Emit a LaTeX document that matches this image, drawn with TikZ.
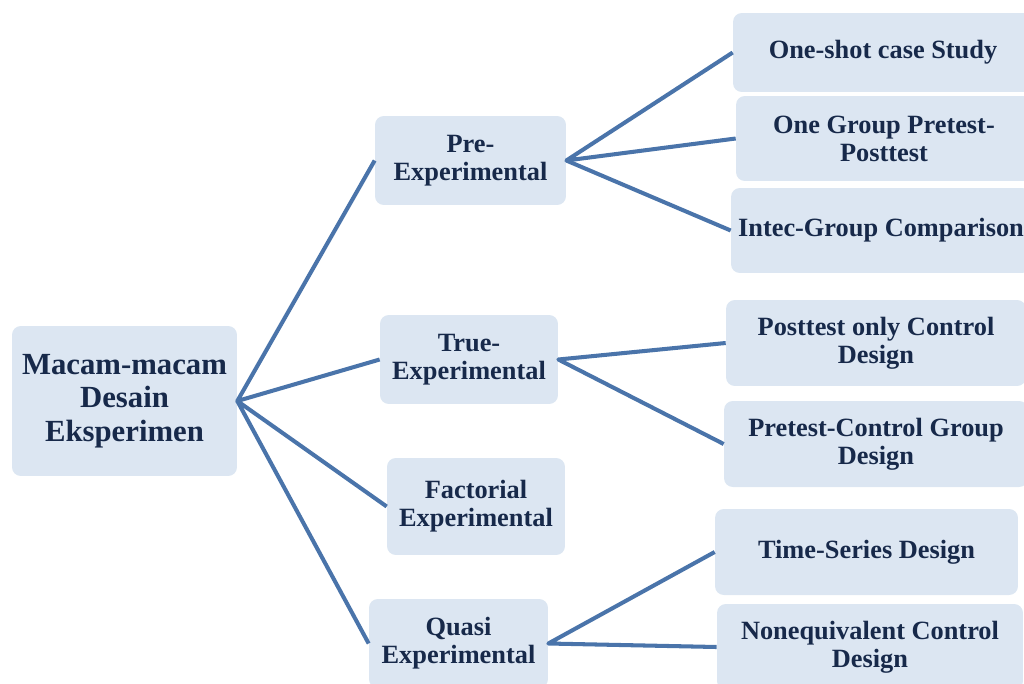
\documentclass[tikz,border=0pt]{standalone}
\usepackage{fontspec}
\setmainfont{Liberation Serif}
\definecolor{boxfill}{HTML}{DCE6F2}
\definecolor{boxtext}{HTML}{17294A}
\definecolor{linkblue}{HTML}{4A74AA}
\tikzset{
  box/.style={rectangle, rounded corners=5pt, fill=boxfill, text=boxtext, align=center,
    font=\fontsize{15}{16}\selectfont\bfseries, inner sep=0pt},
  link/.style={draw=linkblue, line width=2.3pt, line join=round}
}
\begin{document}
\begin{tikzpicture}[x=0.02cm, y=-0.02cm]
			\clip (0,0) rectangle (1024,683);
			\node[box, minimum width=4.5cm, minimum height=3cm, font=\fontsize{17.5}{19}\selectfont\bfseries] at (124.5,401) (root) {Macam-macam\\Desain\\Eksperimen};

			\node[box, minimum width=3.82cm, minimum height=1.78cm] at (470.5,160.5) (pre) {Pre-\\Experimental};
			\node[box, minimum width=3.56cm, minimum height=1.78cm] at (469,359.5) (true) {True-\\Experimental};
			\node[box, minimum width=3.56cm, minimum height=1.94cm] at (476,506.5) (fact) {Factorial\\Experimental};
			\node[box, minimum width=3.58cm, minimum height=1.78cm] at (458.5,643.5) (quasi) {Quasi\\Experimental};

			\node[box, minimum width=6cm, minimum height=1.58cm] at (883,52.5) (oneshot) {One-shot case Study};
			\node[box, minimum width=5.92cm, minimum height=1.7cm] at (884,138.5) (onegroup) {One Group Pretest-\\Posttest};
			\node[box, minimum width=6cm, minimum height=1.7cm] at (881,230.5) (intec) {Intec-Group Comparison};

			\node[box, minimum width=6cm, minimum height=1.72cm] at (876,343) (postonly) {Posttest only Control\\Design};
			\node[box, minimum width=6.08cm, minimum height=1.72cm] at (876,444) (pretestctrl) {Pretest-Control Group\\Design};

			\node[box, minimum width=6.06cm, minimum height=1.72cm] at (866.5,552) (timeseries) {Time-Series Design};
			\node[box, minimum width=6.12cm, minimum height=1.72cm] at (870,647) (noneq) {Nonequivalent Control\\Design};

			\draw[link] (pre.west)--(root.east)--(true.west);
			\draw[link] (fact.west)--(root.east)--(quasi.west);
			\draw[link] (oneshot.west)--(pre.east)--(onegroup.west);
			\draw[link] (pre.east)--(intec.west);
			\draw[link] (postonly.west)--(true.east)--(pretestctrl.west);
			\draw[link] (timeseries.west)--(quasi.east)--(noneq.west);
		\end{tikzpicture}
\end{document}
